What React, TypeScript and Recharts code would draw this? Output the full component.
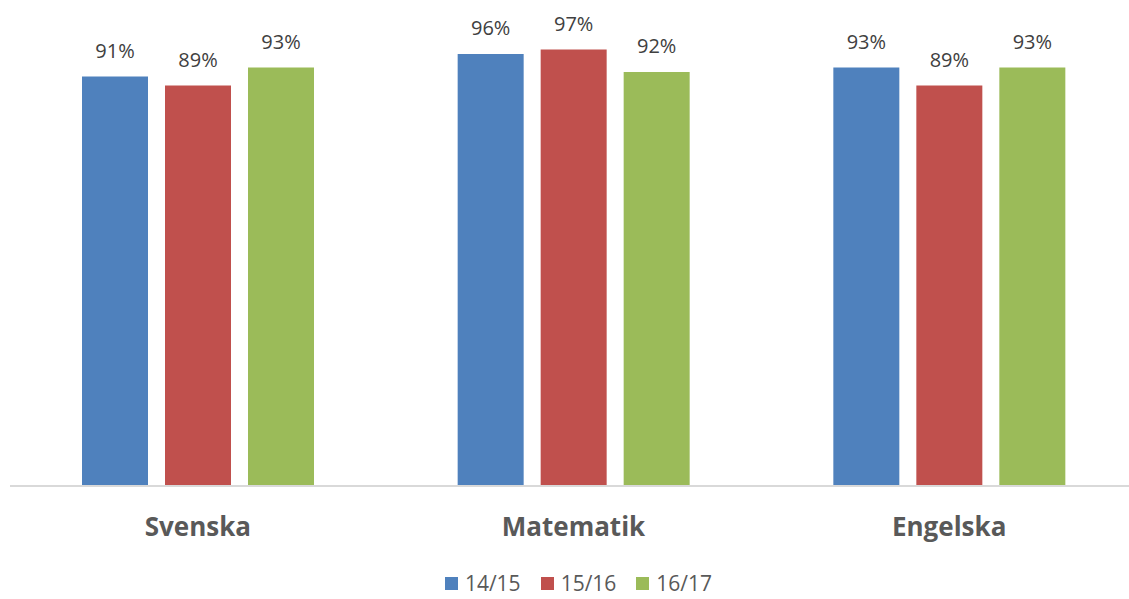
import React from 'react';
import { BarChart, Bar, XAxis, YAxis, Legend, LabelList } from 'recharts';

const subjects = ['Svenska', 'Matematik', 'Engelska'];
const year1415 = [0.91, 0.96, 0.93];
const year1516 = [0.89, 0.97, 0.89];
const year1617 = [0.93, 0.92, 0.93];

const data = subjects.map((name, i) => ({
  name,
  y1415: year1415[i],
  y1516: year1516[i],
  y1617: year1617[i],
}));

const font = '"Open Sans", "Liberation Sans", sans-serif';
const pct = (v: any) => `${Math.round(Number(v) * 100)}%`;

const renderLegend = (props: any) => {
  const { payload } = props;
  return (
    <div style={{ display: 'flex', justifyContent: 'center', alignItems: 'center', height: 40, fontFamily: font, fontSize: 21, color: '#595959' }}>
      {payload.map((entry: any) => (
        <div key={entry.value} style={{ display: 'flex', alignItems: 'center', margin: '0 10px' }}>
          <span style={{ display: 'inline-block', width: 13, height: 13, background: entry.color, marginRight: 7 }} />
          <span>{entry.value}</span>
        </div>
      ))}
    </div>
  );
};

const App: React.FC = () => {
  return (
    <div style={{ position: 'absolute', left: 0, top: 0, width: 1129, height: 599, overflow: 'hidden', background: '#fff' }}>
      <BarChart
        width={1137}
        height={599}
        data={data}
        margin={{ top: 36, right: 0, left: 10, bottom: 0 }}
        barSize={66}
        barGap={17}
        style={{ fontFamily: font }}
      >
        <XAxis
          dataKey="name"
          axisLine={{ stroke: '#D9D9D9', strokeWidth: 2 }}
          tickLine={false}
          height={73}
          tick={{ fill: '#595959', fontSize: 26, fontWeight: 700, fontFamily: font }}
          dy={24}
        />
        <YAxis hide domain={[0, 1]} />
        <Legend
          verticalAlign="bottom"
          content={renderLegend}
          wrapperStyle={{ left: 14, width: 1129, height: 40, bottom: -4 }}
        />
        <Bar dataKey="y1415" name="14/15" fill="#4F81BD" isAnimationActive={false}>
          <LabelList dataKey="y1415" position="top" offset={19} formatter={pct} fill="#404040" fontSize={20} fontFamily={font} />
        </Bar>
        <Bar dataKey="y1516" name="15/16" fill="#C0504D" isAnimationActive={false}>
          <LabelList dataKey="y1516" position="top" offset={19} formatter={pct} fill="#404040" fontSize={20} fontFamily={font} />
        </Bar>
        <Bar dataKey="y1617" name="16/17" fill="#9BBB59" isAnimationActive={false}>
          <LabelList dataKey="y1617" position="top" offset={19} formatter={pct} fill="#404040" fontSize={20} fontFamily={font} />
        </Bar>
      </BarChart>
    </div>
  );
};

export default App;
